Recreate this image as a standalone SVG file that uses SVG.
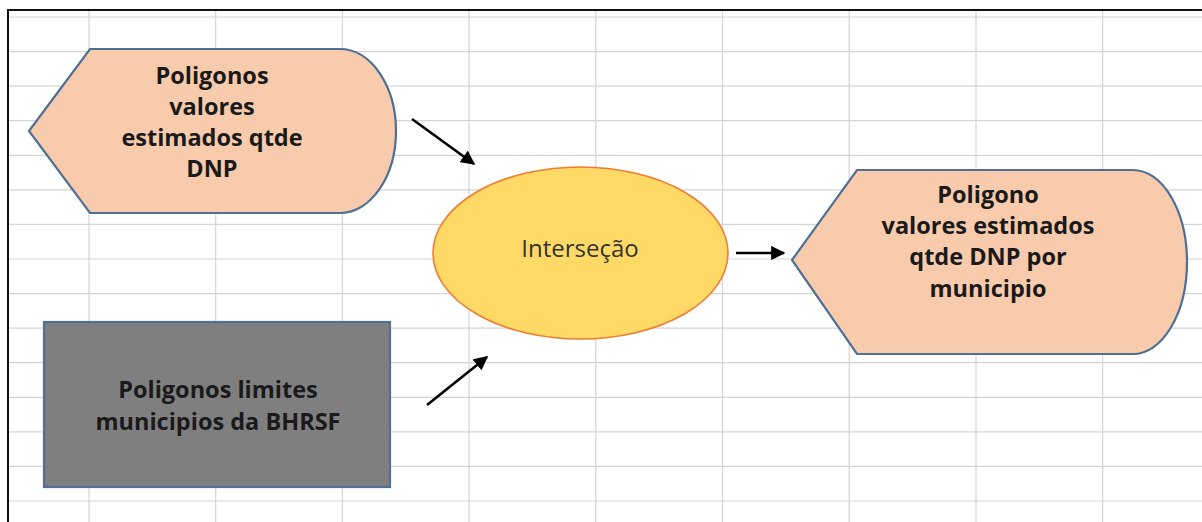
<svg xmlns="http://www.w3.org/2000/svg" width="1202" height="522" viewBox="0 0 1202 522">
  <style>
    .grid line { stroke: #d4d4d4; stroke-width: 1.2; }
    .peach { fill: #f8cbad; stroke: #4f6f94; stroke-width: 2.2; }
    .gray { fill: #7f7f7f; stroke: #4f6f94; stroke-width: 2.2; }
    .oval { fill: #ffd966; stroke: #ed7d31; stroke-width: 1.6; }
    .lbl { font-family: "Open Sans", "Liberation Sans", sans-serif; font-weight: 700; font-size: 23.5px; fill: #1a1a1a; text-anchor: middle; }
    .lbl2 { font-family: "Open Sans", "Liberation Sans", sans-serif; font-weight: 400; font-size: 24px; fill: #333; text-anchor: middle; }
    .conn line { stroke: #000; stroke-width: 2.6; }
  </style>
  <defs>
    <marker id="ah" viewBox="0 0 10 10" refX="9" refY="5" markerWidth="5.5" markerHeight="5.5" orient="auto" markerUnits="strokeWidth">
      <path d="M0,0 L10,5 L0,10 Z" fill="#000"/>
    </marker>
  </defs>
  <rect x="0" y="0" width="1202" height="522" fill="#fff"/>
  <g class="grid">
    <line x1="8" y1="17" x2="1202" y2="17"/>
    <line x1="8" y1="51.6" x2="1202" y2="51.6"/>
    <line x1="8" y1="86.1" x2="1202" y2="86.1"/>
    <line x1="8" y1="120.7" x2="1202" y2="120.7"/>
    <line x1="8" y1="155.3" x2="1202" y2="155.3"/>
    <line x1="8" y1="189.9" x2="1202" y2="189.9"/>
    <line x1="8" y1="224.4" x2="1202" y2="224.4"/>
    <line x1="8" y1="259" x2="1202" y2="259"/>
    <line x1="8" y1="293.6" x2="1202" y2="293.6"/>
    <line x1="8" y1="328.1" x2="1202" y2="328.1"/>
    <line x1="8" y1="362.7" x2="1202" y2="362.7"/>
    <line x1="8" y1="397.3" x2="1202" y2="397.3"/>
    <line x1="8" y1="431.8" x2="1202" y2="431.8"/>
    <line x1="8" y1="466.4" x2="1202" y2="466.4"/>
    <line x1="8" y1="501" x2="1202" y2="501"/>
    <line x1="89" y1="10" x2="89" y2="522"/>
    <line x1="215.7" y1="10" x2="215.7" y2="522"/>
    <line x1="342.4" y1="10" x2="342.4" y2="522"/>
    <line x1="469.1" y1="10" x2="469.1" y2="522"/>
    <line x1="595.8" y1="10" x2="595.8" y2="522"/>
    <line x1="722.5" y1="10" x2="722.5" y2="522"/>
    <line x1="849.2" y1="10" x2="849.2" y2="522"/>
    <line x1="976" y1="10" x2="976" y2="522"/>
    <line x1="1102.6" y1="10" x2="1102.6" y2="522"/>
  </g>
  <line x1="8" y1="10" x2="1202" y2="10" stroke="#111" stroke-width="2"/>
  <line x1="8" y1="9" x2="8" y2="522" stroke="#111" stroke-width="2"/>

  <g id="node-poligonos-dnp">
    <path class="peach" d="M29,131 L90,49 L340,49 A56,82 0 0 1 340,213 L90,213 Z"/>
    <text class="lbl" x="212" y="84">Poligonos</text>
    <text class="lbl" x="212" y="115">valores</text>
    <text class="lbl" x="212" y="146">estimados qtde</text>
    <text class="lbl" x="212" y="177">DNP</text>
  </g>

  <g id="node-limites">
    <rect class="gray" x="44" y="322" width="346" height="165"/>
    <text class="lbl" x="218" y="398">Poligonos limites</text>
    <text class="lbl" x="218" y="430">municipios da BHRSF</text>
  </g>

  <g id="node-intersecao">
    <ellipse class="oval" cx="580.5" cy="253" rx="147.5" ry="86"/>
    <text class="lbl2" x="580" y="257">Interseção</text>
  </g>

  <g id="node-resultado">
    <path class="peach" d="M792,260 L857,170 L1133,170 A54,92 0 0 1 1133,354 L857,354 Z"/>
    <text class="lbl" x="988" y="203">Poligono</text>
    <text class="lbl" x="988" y="234">valores estimados</text>
    <text class="lbl" x="988" y="265">qtde DNP por</text>
    <text class="lbl" x="988" y="297">municipio</text>
  </g>

  <g class="conn" id="connectors">
    <line x1="412" y1="119" x2="474" y2="164" marker-end="url(#ah)"/>
    <line x1="427" y1="405" x2="487" y2="357" marker-end="url(#ah)"/>
    <line x1="736" y1="253" x2="784" y2="253" marker-end="url(#ah)"/>
  </g>
</svg>
